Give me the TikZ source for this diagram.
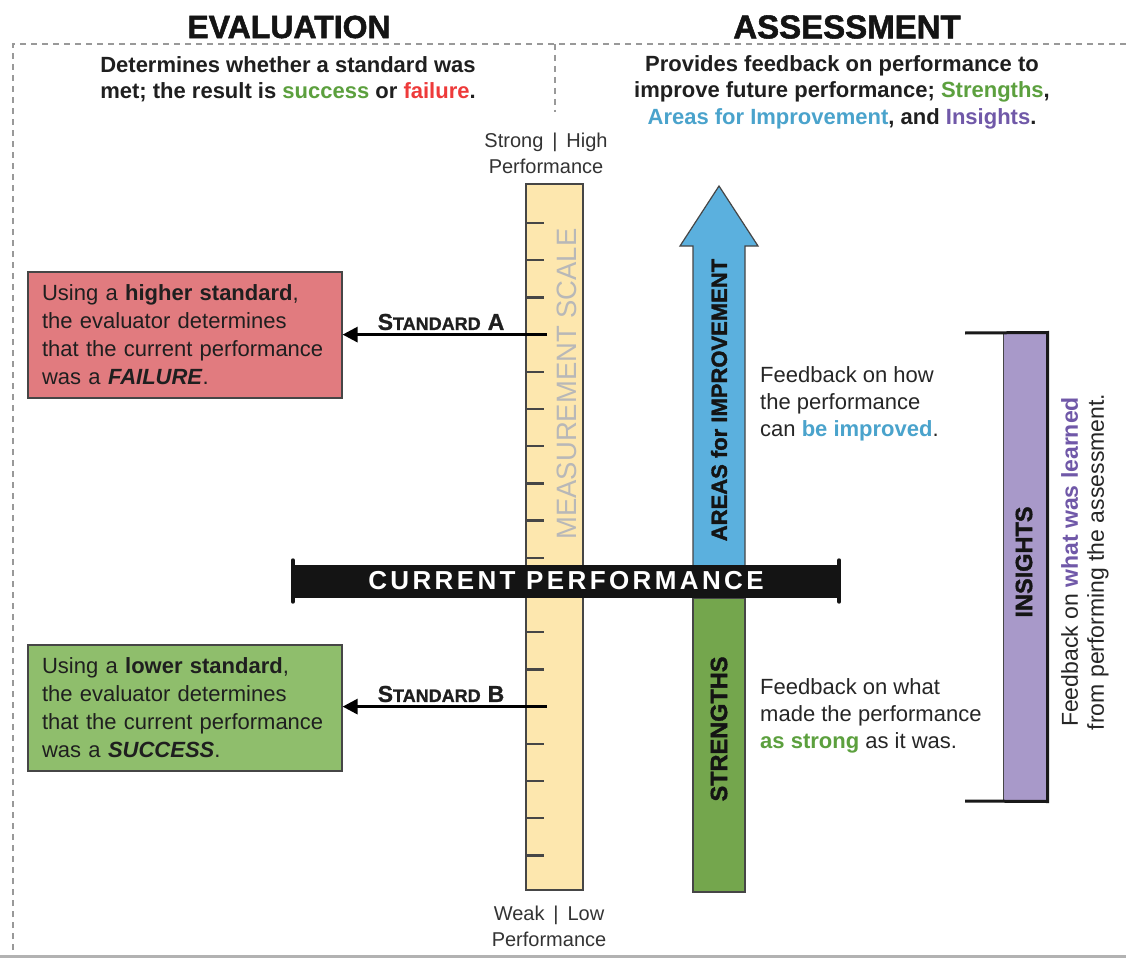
\documentclass[tikz,border=0pt]{standalone}
\usepackage{fontspec}
\setmainfont{Liberation Sans}
\newfontfamily\heavyfont[FakeBold=1.6]{Liberation Sans Bold}
\newfontfamily\semiheavyfont[FakeBold=1.0]{Liberation Sans Bold}
\usetikzlibrary{arrows.meta,calc}
\definecolor{okgreen}{RGB}{92,160,62}
\definecolor{badred}{RGB}{238,58,58}
\definecolor{areablue}{RGB}{74,163,204}
\definecolor{insightpurple}{RGB}{112,88,168}
\definecolor{redfill}{RGB}{225,123,127}
\definecolor{greenfill}{RGB}{143,190,108}
\definecolor{strongfill}{RGB}{116,166,77}
\definecolor{bluefill}{RGB}{91,176,222}
\definecolor{purplefill}{RGB}{168,153,201}
\definecolor{scalefill}{RGB}{253,231,174}
\definecolor{edge}{RGB}{70,70,70}
\begin{document}
\begin{tikzpicture}[x=1pt,y=-1pt,
  frame/.style={draw=gray!80, line width=1.5pt, dash pattern=on 6pt off 5pt},
  heading/.style={font=\fontsize{32}{32}\selectfont\heavyfont, inner sep=0pt, text=black!92},
  sub/.style={font=\fontsize{22}{26.5}\selectfont\bfseries, align=center, inner sep=0pt, text=black!88},
  body/.style={font=\fontsize{22}{27}\selectfont, align=left, inner sep=0pt, text=black!85},
  evalbox/.style={draw=edge, line width=1.2pt, text width=286pt, inner xsep=14pt, minimum height=126pt, align=left, font=\fontsize{22}{28}\selectfont, text=black!88},
  stdarrow/.style={line width=3pt, -{Triangle[length=15pt,width=15pt]}},
  stdlabel/.style={font=\semiheavyfont, inner sep=0pt, text=black!88},
  tickline/.style={draw=edge, line width=2.5pt},
  vlabel/.style={rotate=90, inner sep=0pt, text=black!92},
  endlabel/.style={font=\fontsize{20}{26}\selectfont, align=center, inner sep=0pt, text=black!80}
]
\useasboundingbox (0,0) rectangle (1126,960);
\fill[white] (0,0) rectangle (1126,960);

% frame
\draw[frame] (13,950) -- (13,44) -- (1126,44);
\draw[frame] (555,44) -- (555,112);
\draw[gray!60, line width=3pt] (0,956) -- (1126,956);

% headings
\node[heading] (evalhead) at (289,27) {EVALUATION};
\node[heading, font=\fontsize{33}{33}\selectfont\heavyfont] (assesshead) at (847,27) {ASSESSMENT};
\node[sub] (evalsub) at (288,79) {Determines whether a standard was\\met; the result is \textcolor{okgreen}{success} or \textcolor{badred}{failure}.};
\node[sub] (assesssub) at (842,92) {Provides feedback on performance to\\improve future performance; \textcolor{okgreen}{Strengths},\\\textcolor{areablue}{Areas for Improvement}, and \textcolor{insightpurple}{Insights}.};

% measurement scale
\node[draw=edge, line width=1.5pt, fill=scalefill, minimum width=57pt, minimum height=706pt, inner sep=0pt] (scale) at (554.5,537) {};
\foreach \k in {0,...,17} \draw[tickline] (526,{223+37.2*\k}) -- ++(18,0);
\node[rotate=90, font=\fontsize{28}{28}\selectfont, text=black!28, inner sep=0pt, xscale=0.98] (scalelabel) at (567,384) {MEASUREMENT SCALE};
\node[endlabel] (top) at (546,153) {Strong \,|\, High\\Performance};
\node[endlabel] (bottom) at (549,926) {Weak \,|\, Low\\Performance};

% evaluation boxes
\node[evalbox, fill=redfill] (redbox) at (185,335) {Using a \textbf{higher standard},\\the evaluator determines\\that the current performance\\was a \textbf{\textit{FAILURE}}.};
\node[evalbox, fill=greenfill] (greenbox) at (185,708) {Using a \textbf{lower standard},\\the evaluator determines\\that the current performance\\was a \textbf{\textit{SUCCESS}}.};
\coordinate (stdA) at (547,334.6);
\coordinate (stdB) at (547,706.6);
\draw[stdarrow] (stdA) -- (redbox.east |- stdA);
\draw[stdarrow] (stdB) -- (greenbox.east |- stdB);
\node[stdlabel] (labelA) at (441,322) {{\fontsize{23}{23}\selectfont S}{\fontsize{18}{18}\selectfont TANDARD}\hspace{7pt}{\fontsize{23}{23}\selectfont A}};
\node[stdlabel] (labelB) at (441,694) {{\fontsize{23}{23}\selectfont S}{\fontsize{18}{18}\selectfont TANDARD}\hspace{7pt}{\fontsize{23}{23}\selectfont B}};

% assessment arrow
\draw[draw=edge, line width=1.2pt, fill=bluefill] (693,566) -- (693,246) -- (680,246) -- (719,186) -- (758,246) -- (745,246) -- (745,566) -- cycle;
\node[draw=edge, line width=1.2pt, fill=strongfill, minimum width=52pt, minimum height=294pt, inner sep=0pt] (strengths) at (719,745) {};
\node[vlabel, font=\fontsize{22}{22}\selectfont\heavyfont] (areaslabel) at (719,400) {AREAS for IMPROVEMENT};
\node[vlabel, font=\fontsize{23.5}{23.5}\selectfont\heavyfont] (stronglabel) at (719,729) {STRENGTHS};
\node[body, anchor=west] (improvetext) at (760,404) {Feedback on how\\the performance\\can \textcolor{areablue}{\textbf{be improved}}.};
\node[body, anchor=west] (strongtext) at (760,716) {Feedback on what\\made the performance\\\textcolor{okgreen}{\textbf{as strong}} as it was.};

% current performance bar
\node[fill=black!92, minimum width=548pt, minimum height=33pt, inner sep=0pt, text=white, font=\fontsize{26}{26}\selectfont\bfseries\addfontfeature{LetterSpace=13}] (current) at (566,581) {CURRENT PERFORMANCE};
\draw[black!92, line width=4pt, line cap=round] ($(current.south west)+(1,4)$) -- ($(current.north west)+(1,-4)$);
\draw[black!92, line width=4pt, line cap=round] ($(current.south east)+(-1,4)$) -- ($(current.north east)+(-1,-4)$);

% insights
\node[draw=edge, line width=1pt, fill=purplefill, minimum width=44pt, minimum height=468pt, inner sep=0pt] (insights) at (1025,567) {};
\draw[black!90, line width=3pt] (965,333) -- (insights.north east) -- (insights.south east) -- (965,801);
\node[vlabel, font=\fontsize{23.5}{23.5}\selectfont\heavyfont] (insightslabel) at (1024,562) {INSIGHTS};
\node[rotate=90, font=\fontsize{23}{26}\selectfont, align=center, inner sep=0pt, text=black!85] (insighttext) at (1085,562) {Feedback on \textcolor{insightpurple}{\textbf{what was learned}}\\from performing the assessment.};
\end{tikzpicture}
\end{document}
